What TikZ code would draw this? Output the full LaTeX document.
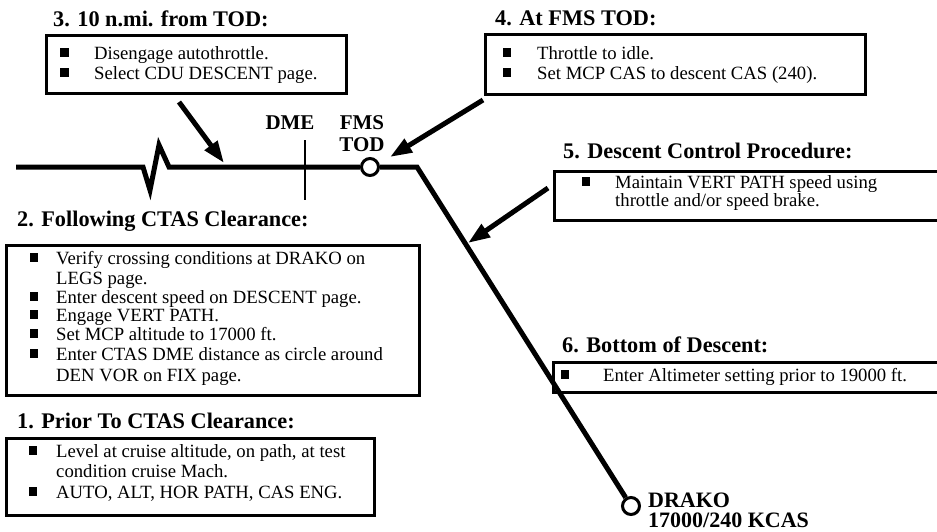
\documentclass[tikz,border=0pt]{standalone}
\usepackage{fontspec}
\setmainfont{Liberation Serif}
\usetikzlibrary{arrows.meta}

\tikzset{
  route/.style={line width=5pt, line join=miter, line cap=butt},
  frame/.style={draw, line width=2.8pt, inner sep=0pt, anchor=north west},
  pointer/.style={line width=5pt, -{Triangle[length=22pt,width=15pt]}},
  wpt/.style={circle, draw, fill=white, line width=3pt, minimum size=17pt, inner sep=0pt},
  head/.style={font=\fontsize{22.3}{26}\selectfont\bfseries, inner sep=0pt, anchor=base west},
  txt/.style={font=\fontsize{18.7}{22}\selectfont, inner sep=0pt, anchor=base west},
  bulletsq/.style={fill, inner sep=0pt, minimum size=8.5pt},
  tag/.style={font=\fontsize{21}{24}\selectfont\bfseries, inner sep=0pt, anchor=base},
  fixtag/.style={font=\fontsize{22}{26}\selectfont\bfseries, inner sep=0pt, anchor=base west},
}

% a bulleted line: name, bullet x, text x, baseline y, text
\newcommand\bline[5]{%
  \node[bulletsq] (#1b) at (#2,#4-6.5) {};
  \node[txt] (#1t) at (#3,#4) {#5};}
% a continuation line without bullet
\newcommand\contline[4]{\node[txt] (#1t) at (#2,#3) {#4};}

\begin{document}
\begin{tikzpicture}[x=1pt,y=-1pt]
\useasboundingbox (0,0) rectangle (937,531);

% ---------- step boxes ----------
% 3. 10 n.mi. from TOD
\node[head] (h3) at (53,26) {3. 10 n.mi. from TOD:};
\node[frame, minimum width=300pt, minimum height=58pt] (box3) at (45,34) {};
\bline{s3a}{64.5}{94}{59}{Disengage autothrottle.}
\bline{s3b}{64.5}{94}{79}{Select CDU DESCENT page.}

% 4. At FMS TOD
\node[head] (h4) at (495,25) {4. At FMS TOD:};
\node[frame, minimum width=380pt, minimum height=60pt] (box4) at (484,33) {};
\bline{s4a}{507}{537}{59}{Throttle to idle.}
\bline{s4b}{507}{537}{79}{Set MCP CAS to descent CAS (240).}

% 5. Descent Control Procedure
\node[head] (h5) at (563,158) {5. Descent Control Procedure:};
\node[frame, minimum width=392pt, minimum height=49pt] (box5) at (553,170) {};
\bline{s5a}{586}{615}{188}{Maintain VERT PATH speed using}
\contline{s5b}{615}{206}{throttle and/or speed brake.}

% 6. Bottom of Descent
\node[head] (h6) at (562,352) {6. Bottom of Descent:};
\node[frame, minimum width=393pt, minimum height=30pt] (box6) at (552,361) {};
\bline{s6a}{565}{603}{381}{Enter Altimeter setting prior to 19000 ft.}

% 2. Following CTAS Clearance
\node[head] (h2) at (17,226) {2. Following CTAS Clearance:};
\node[frame, minimum width=413pt, minimum height=150pt] (box2) at (5,244) {};
\bline{s2a}{34}{56}{264}{Verify crossing conditions at DRAKO on}
\contline{s2b}{56}{284}{LEGS page.}
\bline{s2c}{34}{56}{303}{Enter descent speed on DESCENT page.}
\bline{s2d}{34}{56}{321}{Engage VERT PATH.}
\bline{s2e}{34}{56}{340}{Set MCP altitude to 17000 ft.}
\bline{s2f}{34}{56}{360}{Enter CTAS DME distance as circle around}
\contline{s2g}{56}{381}{DEN VOR on FIX page.}

% 1. Prior To CTAS Clearance
\node[head] (h1) at (17,428) {1. Prior To CTAS Clearance:};
\node[frame, minimum width=368pt, minimum height=77pt] (box1) at (5,437) {};
\bline{s1a}{33}{56}{457}{Level at cruise altitude, on path, at test}
\contline{s1b}{56}{477}{condition cruise Mach.}
\bline{s1c}{33}{56}{498}{AUTO, ALT, HOR PATH, CAS ENG.}

% ---------- flight path ----------
\node[wpt] (fms) at (370,167) {};
\node[wpt] (drako) at (631,506) {};

\coordinate (start) at (16,167);
\coordinate (z1) at (143,167);
\coordinate (z2) at (150,190);
\coordinate (z3) at (159,145);
\coordinate (z4) at (169,167);
\coordinate (tod) at (417,167);

\draw[route] (start) -- (z1) -- (z2) -- (z3) -- (z4) -- (fms);
\draw[route] (fms) -- (tod) -- (drako);

% DME distance tick
\coordinate (dmetop) at (305,140);
\coordinate (dmebot) at (305,200);
\draw[line width=2.5pt] (dmetop) -- (dmebot);

% path labels
\node[tag] (dme) at (290,129) {DME};
\node[tag] (fmsl) at (362,129) {FMS};
\node[tag] (todl) at (362,151) {TOD};
\node[fixtag] (drakol) at (648,507) {DRAKO};
\node[fixtag] (drakoc) at (648,527.5) {17000/240 KCAS};

% ---------- pointers to the path ----------
\coordinate (a3s) at (179,102);
\coordinate (a3e) at (224,163);
\coordinate (a4s) at (483,100);
\coordinate (a4e) at (390,157);
\coordinate (a5s) at (548,188);
\coordinate (a5e) at (468,243);
\draw[pointer] (a3s) -- (a3e);
\draw[pointer] (a4s) -- (a4e);
\draw[pointer] (a5s) -- (a5e);

\end{tikzpicture}
\end{document}
